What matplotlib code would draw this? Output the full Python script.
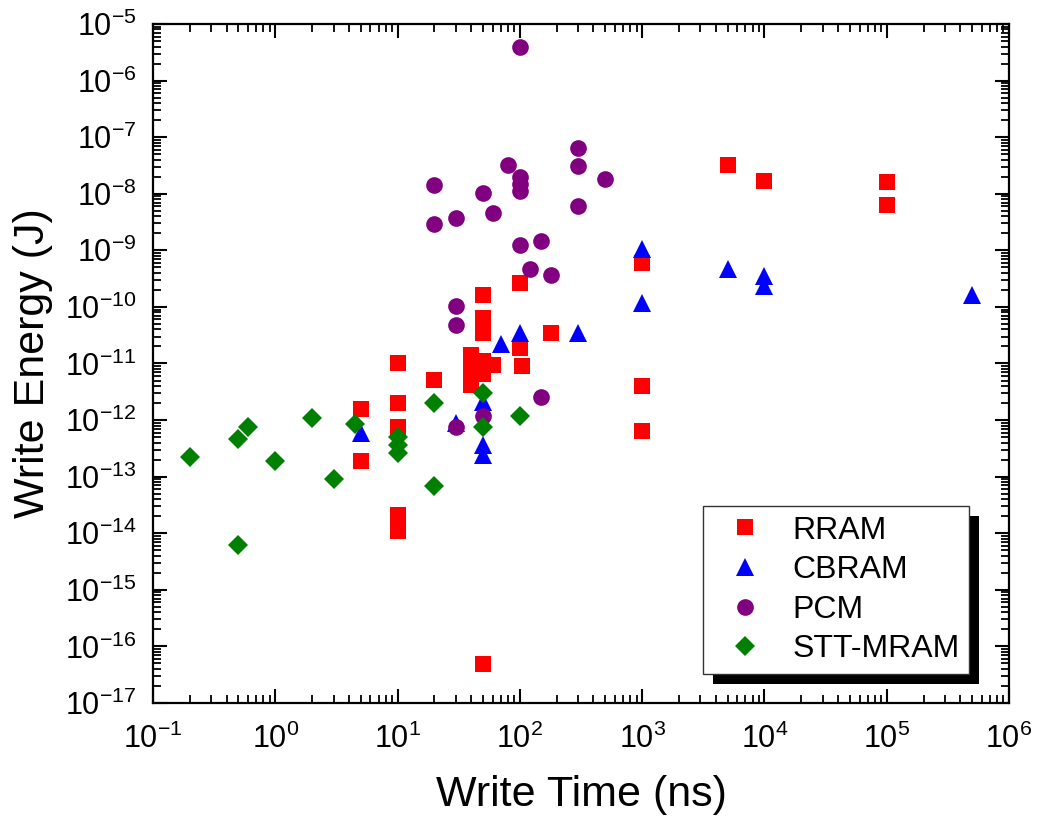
import matplotlib
matplotlib.use("Agg")
import matplotlib.pyplot as plt
from matplotlib.patches import Rectangle
from matplotlib.ticker import LogLocator, LogFormatterSciNotation, NullFormatter

plt.rcParams['font.family'] = ['Liberation Sans', 'DejaVu Sans']
plt.rcParams['mathtext.fontset'] = 'custom'
plt.rcParams['mathtext.rm'] = 'Liberation Sans'
plt.rcParams['mathtext.it'] = 'Liberation Sans:italic'
plt.rcParams['mathtext.bf'] = 'Liberation Sans:bold'
plt.rcParams['mathtext.default'] = 'regular'

# ---- data ----
rram_t = [5, 5, 10, 10, 10, 10, 10, 20, 40, 40, 40, 40, 50, 50, 60,
          50, 50, 50, 100, 100, 105, 180, 1000, 1000, 1000, 5000, 1e4, 1e5, 1e5, 50]
rram_e = [1.6e-12, 1.9e-13, 1e-11, 2e-12, 7.7e-13, 2.1e-14, 1.1e-14, 5.2e-12,
          1.4e-11, 1e-11, 7.2e-12, 4.1e-12, 1.1e-11, 6.6e-12, 9.3e-12,
          1.6e-10, 6.3e-11, 3.4e-11, 2.6e-10, 1.9e-11, 8.9e-12, 3.4e-11,
          6e-10, 4e-12, 6.3e-13, 3.2e-8, 1.7e-8, 1.6e-8, 6.2e-9, 4.9e-17]

cbram_t = [5, 30, 50, 50, 50, 70, 100, 300, 1000, 1000, 5000, 1e4, 1e4, 5e5]
cbram_e = [6e-13, 9e-13, 2.1e-12, 3.6e-13, 2.4e-13, 2.2e-11, 3.4e-11, 3.4e-11,
           1.07e-9, 1.15e-10, 4.6e-10, 3.5e-10, 2.3e-10, 1.65e-10]

pcm_t = [100, 20, 20, 30, 80, 50, 60, 100, 100, 100, 300, 300, 500, 300,
         100, 150, 120, 180, 30, 30, 150, 50, 30]
pcm_e = [4e-6, 1.4e-8, 2.95e-9, 3.8e-9, 3.2e-8, 1.05e-8, 4.6e-9, 2e-8, 1.5e-8,
         1.1e-8, 6.5e-8, 3.1e-8, 1.8e-8, 6.1e-9, 1.26e-9, 1.48e-9, 4.6e-10,
         3.7e-10, 1.05e-10, 4.7e-11, 2.6e-12, 1.2e-12, 7.7e-13]

stt_t = [0.2, 0.5, 0.6, 1, 2, 3, 4.5, 0.5, 10, 10, 10, 20, 50, 50, 100, 20]
stt_e = [2.2e-13, 4.6e-13, 7.7e-13, 1.9e-13, 1.1e-12, 9e-14, 8.4e-13, 6.2e-15,
         5.1e-13, 3.6e-13, 2.6e-13, 2e-12, 3e-12, 7.7e-13, 1.2e-12, 6.8e-14]

series = [
    ("RRAM", rram_t, rram_e, 's', '#ff0000', 11),
    ("CBRAM", cbram_t, cbram_e, '^', '#0000ff', 13.5),
    ("PCM", pcm_t, pcm_e, 'o', '#800080', 12),
    ("STT-MRAM", stt_t, stt_e, 'D', '#008000', 10.5),
]

fig = plt.figure(figsize=(10.4, 8.3), dpi=100)
ax = fig.add_axes([0.1471, 0.153, 0.9702 - 0.1471, 0.9711 - 0.153])

for name, t, e, m, c, ms in series:
    ax.plot(t, e, linestyle='none', marker=m, color=c, markersize=ms,
            markeredgewidth=0, label=name)

ax.set_xscale('log')
ax.set_yscale('log')
ax.set_xlim(1e-1, 1e6)
ax.set_ylim(1e-17, 1e-5)

ax.xaxis.set_major_locator(LogLocator(base=10, numticks=20))
ax.yaxis.set_major_locator(LogLocator(base=10, numticks=20))
ax.xaxis.set_minor_locator(LogLocator(base=10, subs=range(2, 10), numticks=100))
ax.yaxis.set_minor_locator(LogLocator(base=10, subs=range(2, 10), numticks=100))
ax.xaxis.set_major_formatter(LogFormatterSciNotation())
ax.yaxis.set_major_formatter(LogFormatterSciNotation())
ax.xaxis.set_minor_formatter(NullFormatter())
ax.yaxis.set_minor_formatter(NullFormatter())

ax.tick_params(which='both', direction='in', top=True, right=True)
ax.tick_params(which='major', length=10, width=1.5, labelsize=22)
ax.tick_params(which='minor', length=5.5, width=1.3)
ax.tick_params(axis='x', which='major', pad=15)
ax.tick_params(axis='y', which='major', pad=12)
for s in ax.spines.values():
    s.set_linewidth(1.6)

ax.set_xlabel('Write Time (ns)', fontsize=31, labelpad=14)
ax.set_ylabel('Write Energy (J)', fontsize=31, labelpad=8)

leg = ax.legend(loc='upper left', bbox_to_anchor=(0.6425, 0.290),
                borderaxespad=0, fontsize=23, numpoints=1, fancybox=False,
                framealpha=1, edgecolor='#333333', handlelength=2.0,
                handletextpad=0.5, labelspacing=0.30, borderpad=0.3)
leg.get_frame().set_linewidth(1.0)
leg.set_zorder(5)

fig.canvas.draw()
bb = leg.get_window_extent()
inv = fig.transFigure.inverted()
(x0, y0), (x1, y1) = inv.transform([[bb.x0 + 10, bb.y0 - 10], [bb.x1 + 10, bb.y1 - 10]])
shadow = Rectangle((x0, y0), x1 - x0, y1 - y0, transform=fig.transFigure,
                   facecolor='black', edgecolor='none', zorder=4.9, clip_on=False)
ax.add_patch(shadow)

fig.savefig('out.png', dpi=100)
